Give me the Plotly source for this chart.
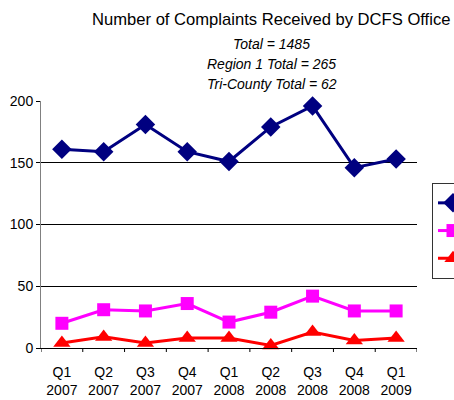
import plotly.graph_objects as go

categories = ["Q1<br>2007", "Q2<br>2007", "Q3<br>2007", "Q4<br>2007", "Q1<br>2008",
              "Q2<br>2008", "Q3<br>2008", "Q4<br>2008", "Q1<br>2009"]
total_vals = [161, 159, 181, 159, 151, 179, 196, 146, 153]
region1_vals = [20, 31, 30, 36, 21, 29, 42, 30, 30]
tricounty_vals = [4, 9, 4, 8, 8, 2, 13, 6, 8]
series_names = ["Total", "Region 1", "Tri-County"]
title_text = "Number of Complaints Received by DCFS Office"
subtitles = ["Total = 1485", "Region 1 Total = 265", "Tri-County Total = 62"]
y_ticks = [0, 50, 100, 150, 200]

# plot area geometry (pixels)
L, R, T, B = 41, 417, 101, 348
W, H = R - L, B - T

fig = go.Figure()
styles = [
    (total_vals, "#000080", "diamond", 15),
    (region1_vals, "#FF00FF", "square", 13),
    (tricounty_vals, "#FF0000", "triangle-up", 15),
]
for name, (vals, col, sym, sz) in zip(series_names, styles):
    fig.add_trace(go.Scatter(
        x=list(range(len(categories))), y=vals, name=name,
        mode="lines+markers",
        line=dict(color=col, width=3),
        marker=dict(symbol=sym, size=sz, color=col),
        cliponaxis=False,
    ))

fig.update_layout(
    width=454, height=400,
    margin=dict(l=L, r=454 - R, t=T, b=400 - B, autoexpand=False),
    paper_bgcolor="white", plot_bgcolor="white",
    font=dict(family="Liberation Sans, Arial", color="black", size=14),
    showlegend=True,
    legend=dict(x=(432 - L) / W, y=(B - 183) / H, xanchor="left", yanchor="top",
                bordercolor="#333333", borderwidth=1,
                font=dict(size=19), bgcolor="white"),
)
fig.update_xaxes(
    range=[-0.5, 8.5],
    tickmode="array", tickvals=list(range(len(categories))), ticktext=categories,
    tickangle=0, ticklabelstandoff=11,
    showgrid=False, showline=True, linecolor="black", linewidth=1,
    ticks="", zeroline=False,
    tickfont=dict(size=14),
)
fig.update_layout(shapes=[
    dict(type="line", xref="x", yref="paper", x0=i - 0.5, x1=i - 0.5, y0=0, y1=-4 / H,
         line=dict(color="black", width=1))
    for i in range(len(categories) + 1)
])
fig.update_yaxes(
    range=[0, 200], tickvals=y_ticks,
    showgrid=True, gridcolor="black", gridwidth=1,
    showline=True, linecolor="#808080", linewidth=1,
    ticks="outside", ticklen=4, tickcolor="black",
    zeroline=False, tickfont=dict(size=14),
)

ann_pos = [(271, 19), (271.5, 44), (271.5, 64), (271.5, 84)]
texts = [title_text] + ["<i>" + s + "</i>" for s in subtitles]
sizes = [16.6, 14, 14, 14]
for t, (xx, yy), sz in zip(texts, ann_pos, sizes):
    fig.add_annotation(text=t, x=(xx - L) / W, y=(B - yy) / H,
                       xref="paper", yref="paper", xanchor="center", yanchor="middle",
                       showarrow=False, font=dict(size=sz))

fig.write_html("out.html", config={"displayModeBar": False},
               post_script="document.body.style.margin='0';")
